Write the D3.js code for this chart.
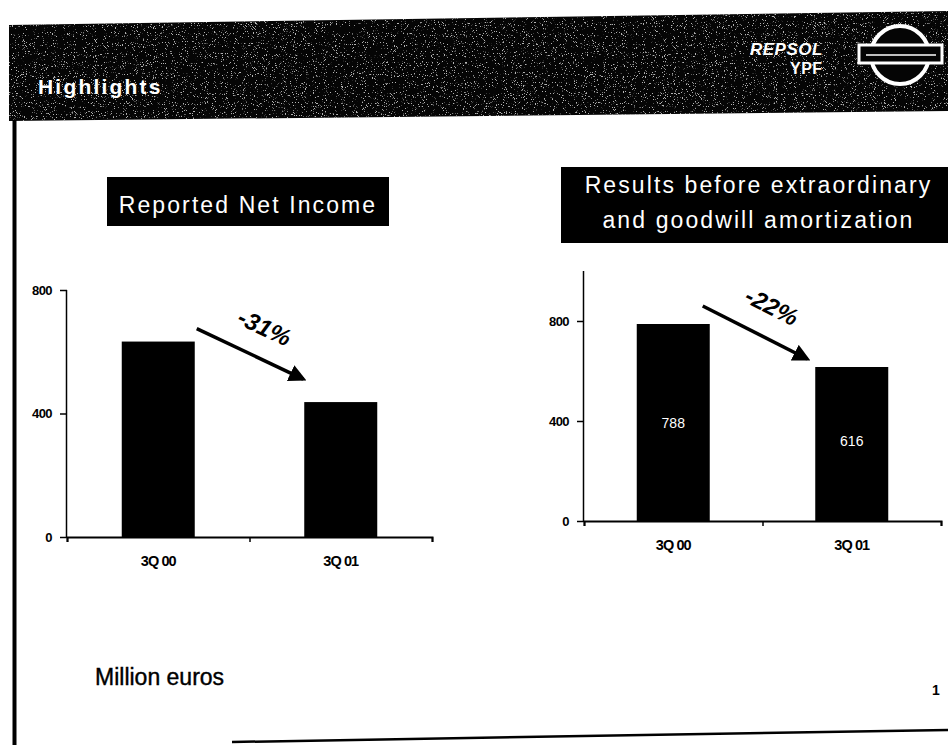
<!DOCTYPE html>
<html><head><meta charset="utf-8">
<script src="https://cdn.jsdelivr.net/npm/d3@7"></script>
<style>
html,body{margin:0;padding:0;background:#fff;}
svg{display:block;font-family:"Liberation Sans",Arial,sans-serif;}
</style></head>
<body><svg id="c" width="948" height="745"></svg>
<script>
// ---- data ----
const categories = ["3Q 00", "3Q 01"];
const netIncome = [633, 437];
const resultsBefore = [788, 616];
const leftTicks = [0, 400, 800];
const rightTicks = [0, 400, 800];
const leftChange = "-31%";
const rightChange = "-22%";
const rightBarLabels = ["788", "616"];

const svg = d3.select("#c");
const defs = svg.append("defs");

// noise texture for header band
const f = defs.append("filter").attr("id","noise").attr("x",0).attr("y",0).attr("width","100%").attr("height","100%");
f.append("feTurbulence").attr("type","fractalNoise").attr("baseFrequency","0.9").attr("numOctaves",2).attr("seed",7).attr("result","t");
f.append("feColorMatrix").attr("in","t").attr("type","matrix")
 .attr("values","0 0 0 0 1  0 0 0 0 1  0 0 0 0 1  12 0 0 0 -7.6");
const bandPts = "9,25 948,11 948,111 9,121";
defs.append("clipPath").attr("id","bandclip").append("polygon").attr("points",bandPts);
defs.append("marker").attr("id","ah").attr("viewBox","0 0 10 10").attr("refX",8).attr("refY",5)
 .attr("markerWidth",5).attr("markerHeight",5).attr("orient","auto")
 .append("path").attr("d","M0,0 L10,5 L0,10 Z").attr("fill","#000");

// header band
svg.append("polygon").attr("points",bandPts).attr("fill","#050505");
svg.append("rect").attr("x",0).attr("y",0).attr("width",948).attr("height",130)
 .attr("clip-path","url(#bandclip)").attr("filter","url(#noise)").attr("opacity",0.7);
svg.append("text").attr("x",38).attr("y",94).attr("fill","#fff").attr("font-size",21)
 .attr("font-weight","bold").attr("letter-spacing",2.2).text("Highlights");
// logo
svg.append("text").attr("x",750).attr("y",55).attr("fill","#fff").attr("font-size",17)
 .attr("font-weight","bold").attr("font-style","italic").attr("letter-spacing",0.5).text("REPSOL");
svg.append("text").attr("x",790).attr("y",74).attr("fill","#fff").attr("font-size",16)
 .attr("font-weight","bold").attr("letter-spacing",0.5).text("YPF");
svg.append("ellipse").attr("cx",900).attr("cy",55).attr("rx",29).attr("ry",29)
 .attr("fill","#050505").attr("stroke","#fff").attr("stroke-width",4);
svg.append("rect").attr("x",859).attr("y",45).attr("width",83).attr("height",18)
 .attr("fill","#050505").attr("stroke","#fff").attr("stroke-width",3);
svg.append("line").attr("x1",866).attr("x2",936).attr("y1",55).attr("y2",55).attr("stroke","#fff").attr("stroke-width",1.5);

// page frame
svg.append("line").attr("x1",14.5).attr("x2",14.5).attr("y1",120).attr("y2",745).attr("stroke","#000").attr("stroke-width",4);
svg.append("line").attr("x1",232).attr("x2",948).attr("y1",742).attr("y2",730).attr("stroke","#000").attr("stroke-width",2.5);

svg.append("text").attr("x",95).attr("y",685).attr("font-size",23).attr("fill","#000")
 .attr("stroke","#000").attr("stroke-width",0.4).text("Million euros");
svg.append("text").attr("x",932).attr("y",695).attr("font-size",14).attr("font-weight","bold").attr("fill","#000").text("1");

function chart(opt){
  const g = svg.append("g");
  const x = d3.scalePoint().domain(categories).range([opt.x0, opt.x1]).padding(0.5);
  const y = d3.scaleLinear().domain([0, opt.ymax]).range([opt.y0, opt.ytop]);
  const bw = opt.bw;
  // title box
  g.append("rect").attr("x",opt.tx).attr("y",opt.ty).attr("width",opt.tw).attr("height",opt.th).attr("fill","#000");
  opt.title.forEach((t,i)=>{
    g.append("text").attr("x",opt.tx+opt.tw/2).attr("y",opt.tb + i*35).attr("text-anchor","middle")
     .attr("fill","#fff").attr("font-size",23).attr("letter-spacing",2.1).text(t);
  });
  // bars
  g.selectAll("rect.bar").data(opt.values).join("rect").attr("class","bar")
   .attr("x",(d,i)=>x(categories[i])-bw/2).attr("width",bw)
   .attr("y",d=>y(d)).attr("height",d=>y(0)-y(d)).attr("fill","#000");
  // y axis
  const ya = d3.axisLeft(y).tickValues(opt.ticks).tickSize(7).tickPadding(8);
  const yg = g.append("g").attr("transform",`translate(${opt.x0},0)`).call(ya);
  yg.select(".domain").attr("stroke-width",1.5).attr("d",`M-0.5,${opt.y0}V${opt.ytop}`);
  yg.selectAll("line").attr("stroke-width",1.5);
  yg.selectAll("text").attr("font-size",13).attr("font-weight","bold").attr("letter-spacing",-0.6)
    .attr("font-family","Liberation Sans, Arial, sans-serif");
  // x axis
  const xa = d3.scaleLinear().domain([0,2]).range([opt.x0,opt.x1]);
  const xg = g.append("g").attr("transform",`translate(0,${opt.y0})`)
    .call(d3.axisBottom(xa).tickValues([0,1,2]).tickSize(5).tickFormat(""));
  xg.select(".domain").attr("stroke-width",2);
  xg.selectAll("line").attr("stroke-width",1.5);
  g.selectAll("text.cat").data(categories).join("text").attr("class","cat")
   .attr("x",d=>x(d)).attr("y",opt.y0+opt.catdy).attr("text-anchor","middle")
   .attr("font-size",14.5).attr("font-weight","bold").attr("letter-spacing",-0.9).text(d=>d);
  // in-bar labels
  if(opt.barLabels){
    g.selectAll("text.bl").data(opt.barLabels).join("text").attr("class","bl")
     .attr("x",(d,i)=>x(categories[i])).attr("y",(d,i)=>opt.blY[i]).attr("text-anchor","middle")
     .attr("fill","#fff").attr("font-size",14).text(d=>d);
  }
  // arrow
  const ax1 = x(categories[0])+bw/2+opt.a.dx1, ay1 = y(opt.values[0])+opt.a.dy1;
  const ax2 = x(categories[1])-bw/2+opt.a.dx2, ay2 = y(opt.values[1])+opt.a.dy2;
  g.append("line").attr("x1",ax1).attr("y1",ay1).attr("x2",ax2).attr("y2",ay2)
   .attr("stroke","#000").attr("stroke-width",3.5).attr("marker-end","url(#ah)");
  const ang = Math.atan2(ay2-ay1, ax2-ax1)*180/Math.PI;
  g.append("text").attr("transform",`translate(${opt.lx},${opt.ly}) rotate(${ang})`)
   .attr("text-anchor","middle").attr("font-size",24).attr("font-weight","bold").attr("font-style","italic")
   .text(opt.change);
}

chart({x0:67,x1:432,y0:537,ytop:290,ymax:800,bw:73,values:netIncome,ticks:leftTicks,
  tx:107,ty:177,tw:282,th:49,tb:213,title:["Reported Net Income"],catdy:29,
  a:{dx1:2,dy1:-13,dx2:-1,dy2:-23},lx:261,ly:335,change:leftChange});
chart({x0:584,x1:941,y0:521,ytop:271,ymax:1000,bw:73,values:resultsBefore,ticks:rightTicks,
  tx:561,ty:167,tw:395,th:76,tb:193,title:["Results before extraordinary","and goodwill amortization"],catdy:29,
  barLabels:rightBarLabels,blY:[428,446],
  a:{dx1:-7,dy1:-18,dx2:-8,dy2:-8},lx:768,ly:314,change:rightChange});
</script></body></html>
